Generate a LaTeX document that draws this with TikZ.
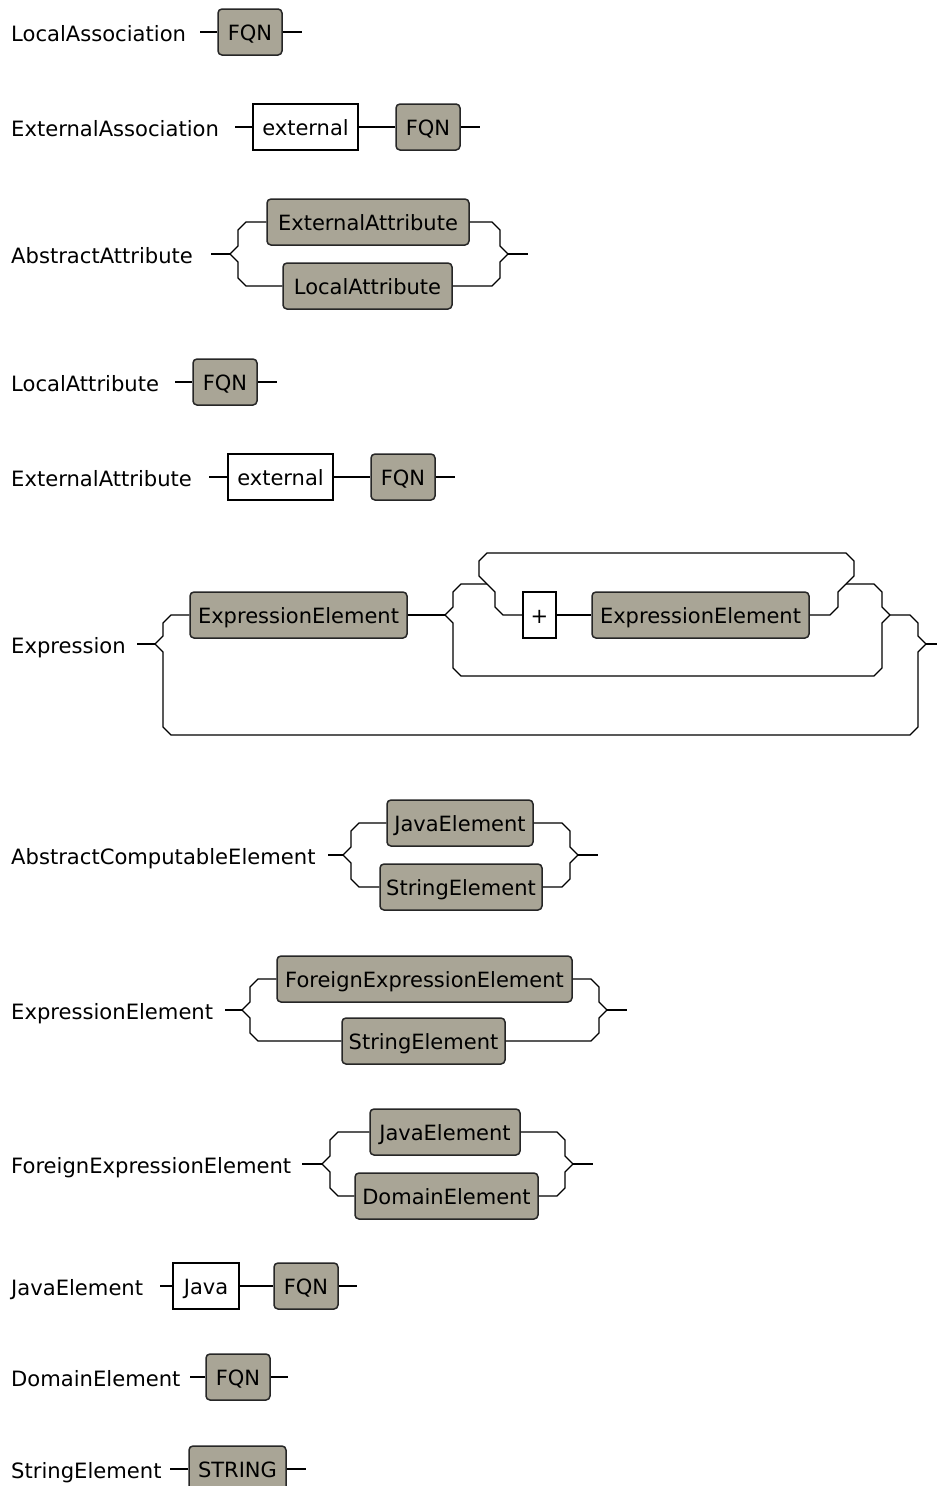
\documentclass[tikz,border=0pt]{standalone}
\usepackage{fontspec}
\setmainfont{DejaVu Sans}
\definecolor{boxgray}{RGB}{169,165,150}
\newcommand{\diagfont}{\fontsize{21}{25}\selectfont}
\newcommand{\labelfont}{\fontsize{21.1}{25}\selectfont}
\begin{document}
\begin{tikzpicture}[x=1pt,y=-1pt,
  rail/.style={line width=1.3pt, line join=miter, draw=black},
  gbox/.style={draw=black!85, line width=1.5pt, fill=boxgray, rounded corners=4pt,
    inner sep=0pt, minimum height=46pt, text height=17pt, text depth=0pt, font=\diagfont},
  wbox/.style={draw=black, line width=1.3pt, fill=white,
    inner sep=0pt, minimum height=46pt, text height=17pt, text depth=0pt, font=\diagfont},
  lbl/.style={anchor=base west, inner sep=0pt, font=\labelfont}]
\useasboundingbox (0,0) rectangle (937,1486);

% ---------- Row 1: LocalAssociation
\node[lbl] (l1) at (11,41) {LocalAssociation};
\coordinate (s1) at (200,32); \coordinate (e1) at (302,32);
\node[gbox, minimum width=64pt] (fqn1) at (250,32) {FQN};
\draw[rail] (s1) -- (fqn1.west) (fqn1.east) -- (e1);

% ---------- Row 2: ExternalAssociation
\node[lbl] (l2) at (11,136) {ExternalAssociation};
\coordinate (s2) at (235,127); \coordinate (e2) at (480,127);
\node[wbox, minimum width=105pt] (ext2) at (305.5,127) {external};
\node[gbox, minimum width=64pt] (fqn2) at (428,127) {FQN};
\draw[rail] (s2) -- (ext2.west) (ext2.east) -- (fqn2.west) (fqn2.east) -- (e2);

% ---------- Row 3: AbstractAttribute
\node[lbl] (l3) at (11,263) {AbstractAttribute};
\coordinate (s3) at (211,254); \coordinate (j3l) at (230,254);
\coordinate (j3r) at (508,254); \coordinate (e3) at (528,254);
\node[gbox, minimum width=202pt] (exa3) at (368,222) {ExternalAttribute};
\node[gbox, minimum width=169pt] (loa3) at (367.5,286) {LocalAttribute};
\draw[rail] (s3) -- (j3l);
\draw[rail] (j3l) -- ++(8,-8) -- ++(0,-16) -- ++(8,-8) -- (exa3.west);
\draw[rail] (j3l) -- ++(8,8) -- ++(0,16) -- ++(8,8) -- (loa3.west);
\draw[rail] (exa3.east) -- (492,222) -- ++(8,8) -- ++(0,16) -- (j3r);
\draw[rail] (loa3.east) -- (492,286) -- ++(8,-8) -- ++(0,-16) -- (j3r);
\draw[rail] (j3r) -- (e3);

% ---------- Row 4: LocalAttribute
\node[lbl] (l4) at (11,391) {LocalAttribute};
\coordinate (s4) at (175,382); \coordinate (e4) at (277,382);
\node[gbox, minimum width=64pt] (fqn4) at (225,382) {FQN};
\draw[rail] (s4) -- (fqn4.west) (fqn4.east) -- (e4);

% ---------- Row 5: ExternalAttribute
\node[lbl] (l5) at (11,486) {ExternalAttribute};
\coordinate (s5) at (209,477); \coordinate (e5) at (455,477);
\node[wbox, minimum width=105pt] (ext5) at (280.5,477) {external};
\node[gbox, minimum width=64pt] (fqn5) at (403,477) {FQN};
\draw[rail] (s5) -- (ext5.west) (ext5.east) -- (fqn5.west) (fqn5.east) -- (e5);

% ---------- Row 6: Expression
\node[lbl] (l6) at (11,653) {Expression};
\coordinate (s6) at (137,644);
\coordinate (j6a) at (155,644);   % outer left junction
\coordinate (j6b) at (445,615);   % optional-group junction
\coordinate (j6l) at (487,584);   % loop left junction
\coordinate (j6r) at (846,584);   % loop right junction
\coordinate (j6c) at (890,615);   % optional-group right junction
\coordinate (j6d) at (926,644);   % outer right junction
\coordinate (e6) at (937,644);
\node[gbox, minimum width=217pt] (ee1) at (298.5,615) {ExpressionElement};
\node[wbox, minimum width=33pt] (plus) at (539.5,615) {+};
\node[gbox, minimum width=217pt] (ee2) at (700.5,615) {ExpressionElement};
\draw[rail] (s6) -- (j6a);
\draw[rail] (j6a) -- ++(8,-8) -- ++(0,-13) -- ++(8,-8) -- (ee1.west);
\draw[rail] (j6a) -- ++(8,8) -- (163,727) -- ++(8,8) -- (910,735) -- ++(8,-8) -- (918,652) -- (j6d);
\draw[rail] (ee1.east) -- (j6b);
\draw[rail] (j6b) -- ++(8,-8) -- (453,592) -- (461,584) -- (j6l);
\draw[rail] (j6b) -- ++(8,8) -- (453,668) -- ++(8,8) -- (874,676) -- ++(8,-8) -- (882,623) -- (j6c);
\draw[rail] (j6l) -- ++(-8,-8) -- (479,561) -- ++(8,-8) -- (846,553) -- ++(8,8) -- (854,576) -- (j6r);
\draw[rail] (j6l) -- ++(8,8) -- (495,607) -- ++(8,8) -- (plus.west);
\draw[rail] (plus.east) -- (ee2.west);
\draw[rail] (ee2.east) -- (830,615) -- ++(8,-8) -- (838,592) -- (j6r);
\draw[rail] (j6r) -- (874,584) -- ++(8,8) -- (882,607) -- (j6c);
\draw[rail] (j6c) -- (910,615) -- ++(8,8) -- (918,636) -- (j6d);
\draw[rail] (j6d) -- (e6);

% ---------- Row 7: AbstractComputableElement
\node[lbl] (l7) at (11,864) {AbstractComputableElement};
\coordinate (s7) at (328,855); \coordinate (j7l) at (343,855);
\coordinate (j7r) at (578,855); \coordinate (e7) at (598,855);
\node[gbox, minimum width=146pt] (jav7) at (460,823) {JavaElement};
\node[gbox, minimum width=162pt] (str7) at (461,887) {StringElement};
\draw[rail] (s7) -- (j7l);
\draw[rail] (j7l) -- ++(8,-8) -- ++(0,-16) -- ++(8,-8) -- (jav7.west);
\draw[rail] (j7l) -- ++(8,8) -- ++(0,16) -- ++(8,8) -- (str7.west);
\draw[rail] (jav7.east) -- (562,823) -- ++(8,8) -- ++(0,16) -- (j7r);
\draw[rail] (str7.east) -- (562,887) -- ++(8,-8) -- ++(0,-16) -- (j7r);
\draw[rail] (j7r) -- (e7);

% ---------- Row 8: ExpressionElement
\node[lbl] (l8) at (11,1019) {ExpressionElement};
\coordinate (s8) at (225,1010); \coordinate (j8l) at (242,1010);
\coordinate (j8r) at (607,1010); \coordinate (e8) at (627,1010);
\node[gbox, minimum width=295pt] (fee8) at (424.5,979) {ForeignExpressionElement};
\node[gbox, minimum width=163pt] (str8) at (423.5,1041) {StringElement};
\draw[rail] (s8) -- (j8l);
\draw[rail] (j8l) -- ++(8,-8) -- ++(0,-15) -- ++(8,-8) -- (fee8.west);
\draw[rail] (j8l) -- ++(8,8) -- ++(0,15) -- ++(8,8) -- (str8.west);
\draw[rail] (fee8.east) -- (591,979) -- ++(8,8) -- ++(0,15) -- (j8r);
\draw[rail] (str8.east) -- (591,1041) -- ++(8,-8) -- ++(0,-15) -- (j8r);
\draw[rail] (j8r) -- (e8);

% ---------- Row 9: ForeignExpressionElement
\node[lbl] (l9) at (11,1173) {ForeignExpressionElement};
\coordinate (s9) at (302,1164); \coordinate (j9l) at (322,1164);
\coordinate (j9r) at (573,1164); \coordinate (e9) at (593,1164);
\node[gbox, minimum width=150pt] (jav9) at (445,1132) {JavaElement};
\node[gbox, minimum width=183pt] (dom9) at (446.5,1196) {DomainElement};
\draw[rail] (s9) -- (j9l);
\draw[rail] (j9l) -- ++(8,-8) -- ++(0,-16) -- ++(8,-8) -- (jav9.west);
\draw[rail] (j9l) -- ++(8,8) -- ++(0,16) -- ++(8,8) -- (dom9.west);
\draw[rail] (jav9.east) -- (557,1132) -- ++(8,8) -- ++(0,16) -- (j9r);
\draw[rail] (dom9.east) -- (557,1196) -- ++(8,-8) -- ++(0,-16) -- (j9r);
\draw[rail] (j9r) -- (e9);

% ---------- Row 10: JavaElement
\node[lbl] (l10) at (11,1295) {JavaElement};
\coordinate (s10) at (160,1286); \coordinate (e10) at (357,1286);
\node[wbox, minimum width=66pt] (java10) at (206,1286) {Java};
\node[gbox, minimum width=64pt] (fqn10) at (306,1286) {FQN};
\draw[rail] (s10) -- (java10.west) (java10.east) -- (fqn10.west) (fqn10.east) -- (e10);

% ---------- Row 11: DomainElement
\node[lbl] (l11) at (11,1386) {DomainElement};
\coordinate (s11) at (190,1377); \coordinate (e11) at (288,1377);
\node[gbox, minimum width=64pt] (fqn11) at (238,1377) {FQN};
\draw[rail] (s11) -- (fqn11.west) (fqn11.east) -- (e11);

% ---------- Row 12: StringElement
\node[lbl] (l12) at (11,1478) {StringElement};
\coordinate (s12) at (170,1469); \coordinate (e12) at (306,1469);
\node[gbox, minimum width=97pt] (str12) at (237.5,1469) {STRING};
\draw[rail] (s12) -- (str12.west) (str12.east) -- (e12);
\end{tikzpicture}
\end{document}
